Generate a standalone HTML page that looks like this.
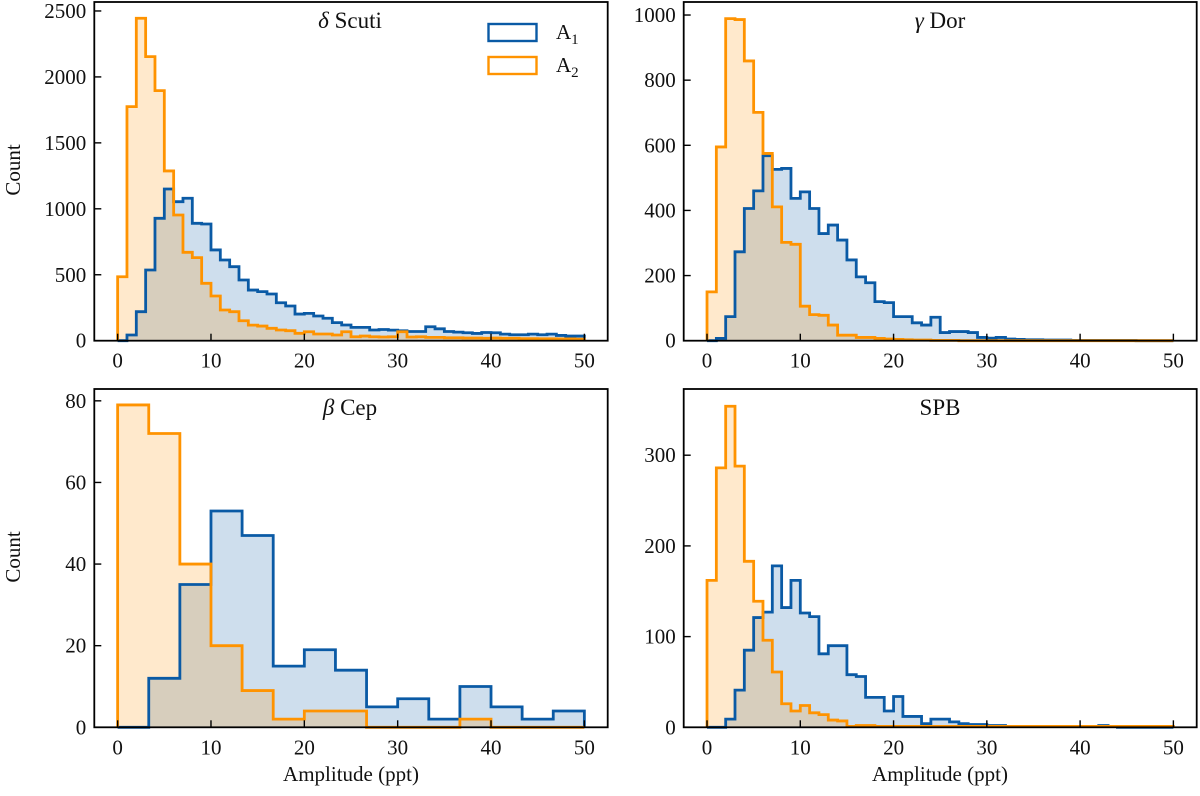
<!DOCTYPE html>
<html><head><meta charset="utf-8">
<style>
html,body{margin:0;padding:0;background:#fff;}
svg{display:block;font-family:"Liberation Serif","DejaVu Serif",serif;}
</style></head>
<body>
<svg id="fig" width="1200" height="796" viewBox="0 0 1200 796" xmlns="http://www.w3.org/2000/svg"></svg>
<script>
// ---- data ----
const dsctA1 = [0,43,220,536,928,1150,1054,1080,890,885,688,612,561,460,384,372,354,288,263,202,207,187,170,137,119,101,101,81,85,80,75,70,70,106,90,70,65,60,55,62,60,50,45,45,50,45,50,40,35,35];
const dsctA2 = [485,1775,2445,2154,1896,1287,953,670,630,435,339,233,220,151,118,111,94,81,76,56,68,51,51,43,68,30,35,30,28,30,68,28,30,25,25,22,22,20,20,18,20,18,18,16,16,15,15,14,14,12];
const gdorA1 = [0,7,74,273,406,460,568,526,529,437,457,406,329,355,309,248,196,178,120,117,74,74,55,48,72,25,28,28,25,10,8,10,5,4,3,3,2,2,2,1,1,1,1,1,1,1,0,0,0,0];
const gdorA2 = [150,595,989,986,859,701,575,411,302,296,106,80,78,48,17,17,10,10,7,5,4,3,2,2,1,1,1,0,0,0,0,0,0,0,0,0,0,0,0,0,0,0,0,0,0,0,0,0,0,0];
const bcepA1 = [0,12,35,53,47,15,19,14,5,7,2,10,5,2,4];
const bcepA2 = [79,72,40,20,9,2,4,4,0,0,0,2,0,0,0];
const spbA1 = [0,0,9,41,85,121,127,178,132,162,126,122,81,90,90,58,56,33,33,18,34,12,12,4,9,9,6,4,3,3,2,2,1,1,1,1,1,1,1,1,1,1,2,1,0,0,0,0,0,0];
const spbA2 = [162,286,354,288,183,139,96,61,26,18,24,16,14,8,7,1,2,2,1,1,1,1,1,1,1,1,1,1,1,1,1,1,1,1,1,1,1,1,1,1,1,1,1,1,1,1,1,1,1,1];
const xTicks = [0,10,20,30,40,50];
const dsctYTicks = [0,500,1000,1500,2000,2500];
const gdorYTicks = [0,200,400,600,800,1000];
const bcepYTicks = [0,20,40,60,80];
const spbYTicks = [0,100,200,300];

const NS = "http://www.w3.org/2000/svg";
const svg = document.getElementById('fig');
const BLUE = "#0a5aa5", ORANGE = "#ff9300";
function mk(tag, attrs, parent){const e=document.createElementNS(NS,tag);for(const k in attrs)e.setAttribute(k,attrs[k]);(parent||svg).appendChild(e);return e;}

function panel(cfg){
  const g = mk('g',{});
  
  
  const L=cfg.x0,R=cfg.x1,T=cfg.y0,B=cfg.y1;
  const sx = v => L + (v+2.5)/55*(R-L);
  const sy = v => B - v/cfg.ymax*(B-T);
  const bw = 50/cfg.a1.length;
  function stepPath(arr, closed){
    let d = `M${sx(0)},${sy(0)}`;
    arr.forEach((v,i)=>{ d += ` L${sx(i*bw)},${sy(v)} L${sx((i+1)*bw)},${sy(v)}`; });
    d += ` L${sx(50)},${sy(0)}`;
    if(closed) d += ' Z';
    return d;
  }
  const f1 = mk('path',{d:stepPath(cfg.a1,true),fill:BLUE,'fill-opacity':0.2,stroke:'none'},g);
  
  
  const f2 = mk('path',{d:stepPath(cfg.a2,true),fill:ORANGE,'fill-opacity':0.2,stroke:'none'},g);
  
  
  const l1 = mk('path',{d:stepPath(cfg.a1,false),fill:'none',stroke:BLUE,'stroke-width':2.8,'stroke-linejoin':'miter'},g);
  
  
  const l2 = mk('path',{d:stepPath(cfg.a2,false),fill:'none',stroke:ORANGE,'stroke-width':2.8,'stroke-linejoin':'miter'},g);
  
  
  const fr = mk('rect',{x:L,y:T,width:R-L,height:B-T,fill:'none',stroke:'#000','stroke-width':1.8},g);
  
  
  xTicks.forEach(t=>{
    mk('line',{x1:sx(t),x2:sx(t),y1:B,y2:B-7,stroke:'#000','stroke-width':1.4},g);
    const tx = mk('text',{x:sx(t),y:B+27,'font-size':21,'text-anchor':'middle',fill:'#111'},g);
    tx.textContent = t;
    
    
  });
  cfg.yt.forEach(t=>{
    mk('line',{x1:L,x2:L+7,y1:sy(t),y2:sy(t),stroke:'#000','stroke-width':1.4},g);
    const ty = mk('text',{x:L-8,y:sy(t)+7,'font-size':21,'text-anchor':'end',fill:'#111'},g);
    ty.textContent = t;
    
    
  });
  const ti = mk('text',{x:cfg.tx,y:T+26,'font-size':23,'text-anchor':'middle',fill:'#111'},g);
  ti.innerHTML = cfg.title;
  
  
}

panel({name:'delta-scuti-panel',x0:94.3,x1:607.7,y0:2,y1:340.7,ymax:2568,a1:dsctA1,a2:dsctA2,yt:dsctYTicks,tx:350,title:'<tspan font-style="italic">δ</tspan> Scuti'});
panel({name:'gamma-dor-panel',x0:683.7,x1:1196.7,y0:2,y1:340.7,ymax:1040,a1:gdorA1,a2:gdorA2,yt:gdorYTicks,tx:940,title:'<tspan font-style="italic">γ</tspan> Dor'});
panel({name:'beta-cep-panel',x0:94.3,x1:607.7,y0:389,y1:727.3,ymax:82.9,a1:bcepA1,a2:bcepA2,yt:bcepYTicks,tx:350,title:'<tspan font-style="italic">β</tspan> Cep'});
panel({name:'spb-panel',x0:683.7,x1:1196.7,y0:389,y1:727.3,ymax:373,a1:spbA1,a2:spbA2,yt:spbYTicks,tx:940,title:'SPB'});

[[170],[557]].forEach(([cy])=>{
  const t = mk('text',{x:0,y:0,'font-size':21,'text-anchor':'middle',fill:'#111',transform:`translate(20,${cy}) rotate(-90)`});
  t.textContent='Count';
  
  
});
[351,940].forEach(cx=>{
  const t = mk('text',{x:cx,y:781,'font-size':21,'text-anchor':'middle',fill:'#111'});
  t.textContent='Amplitude (ppt)';
  
  
});

const lg = mk('g',{});


[[BLUE,'A<tspan font-size="15" dy="5">1</tspan>',24],[ORANGE,'A<tspan font-size="15" dy="5">2</tspan>',57]].forEach(([c,lab,y],i)=>{
  const r = mk('rect',{x:488.5,y:y,width:48,height:17,fill:'#fff',stroke:c,'stroke-width':2.4},lg);
  
  
  const t = mk('text',{x:556,y:y+15,'font-size':21,fill:'#111'},lg);
  t.innerHTML = lab;
  
  
});
</script>
</body></html>
